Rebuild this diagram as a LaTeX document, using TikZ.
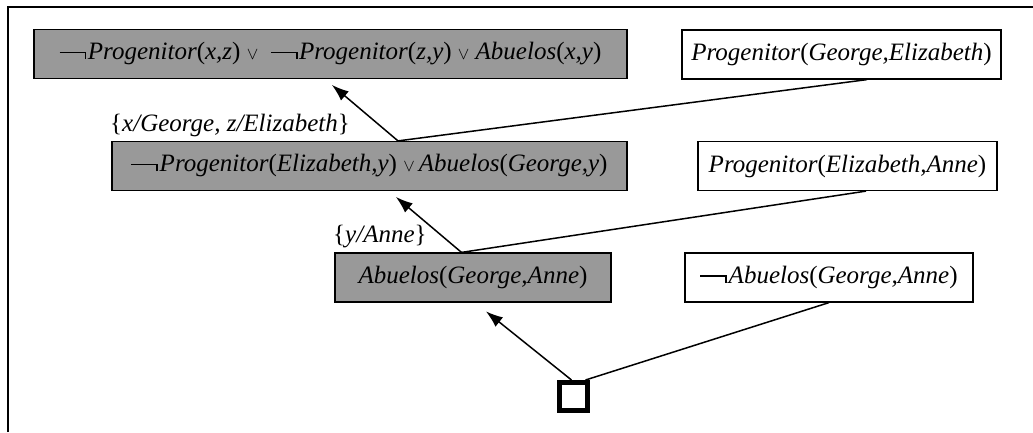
\documentclass[tikz,border=0pt]{standalone}
\usepackage{fontspec}
\setmainfont{Liberation Serif}
\usetikzlibrary{arrows.meta,positioning}
\newcommand{\negsym}{\rule[6.5pt]{25pt}{1.8pt}\rule[0.8pt]{1.8pt}{7.5pt}\kern1.5pt}
\newcommand{\orsym}{{\fontsize{18}{18}\selectfont$\vee$}}
\newcommand{\pred}[2]{\textit{#1}(\textit{#2})}

\begin{document}
\begin{tikzpicture}
  [
    x=1pt, y=-1pt,
    font=\fontsize{25}{29}\selectfont,
    every node/.style={inner sep=0pt, align=center},
    clause/.style={draw, line width=1.2pt, minimum height=49pt},
    used/.style={clause, fill=black!40},
    given/.style={clause, fill=white},
    resolves/.style={line width=1.5pt, -{Latex[length=17pt,width=12pt]}},
    joins/.style={line width=1.5pt},
  ]
  % \draw[help lines] grid(10,10);
  \useasboundingbox (0,0) rectangle (1033,432);
  \draw[line width=1.2pt] (8,432) -- (8,7) -- (1033,7);
  \node [used, minimum width=593pt] (goal) at (330.5,54)
    {\negsym\pred{Progenitor}{x,z} \orsym\ \ \negsym\pred{Progenitor}{z,y} \orsym\ \pred{Abuelos}{x,y}};
  \node [given, minimum width=319pt] (fact1) at (841.5,54.5) {\pred{Progenitor}{George,Elizabeth}};
  \node [used, minimum width=515pt] (res1) at (369.5,166)
    {\negsym\pred{Progenitor}{Elizabeth,y}\ \orsym\,\pred{Abuelos}{George,y}};
  \node [given, minimum width=299pt] (fact2) at (847.5,166) {\pred{Progenitor}{Elizabeth,Anne}};
  \node [used, minimum width=276pt] (res2) at (473,277.5) {\pred{Abuelos}{George,Anne}};
  \node [given, minimum width=288pt] (query) at (829,277.5) {\negsym\pred{Abuelos}{George,Anne}};
  \node [draw, line width=5pt, minimum size=28pt] (empty) at (573.5,396.5) {};
  \node [anchor=west] (sub1) at (110,125) {\{\textit{x/George, z/Elizabeth}\}};
  \node [anchor=west] (sub2) at (333,237) {\{\textit{y/Anne}\}};
  \draw [resolves, shorten >=9pt] ([xshift=28.5pt]res1.north) -- ([xshift=-5.5pt]goal.south);
  \draw [joins] ([xshift=28.5pt]res1.north) -- ([xshift=25.5pt]fact1.south);
  \draw [resolves, shorten >=9pt] ([xshift=-11.5pt]res2.north) -- ([xshift=19.5pt]res1.south);
  \draw [joins] ([xshift=-11.5pt]res2.north) -- ([xshift=18.5pt]fact2.south);
  \draw [resolves, shorten >=14pt] ([xshift=-2pt]empty.north) -- ([xshift=2pt]res2.south);
  \draw [joins] ([xshift=12pt]empty.north) -- (query.south);
\end{tikzpicture}
\end{document}
